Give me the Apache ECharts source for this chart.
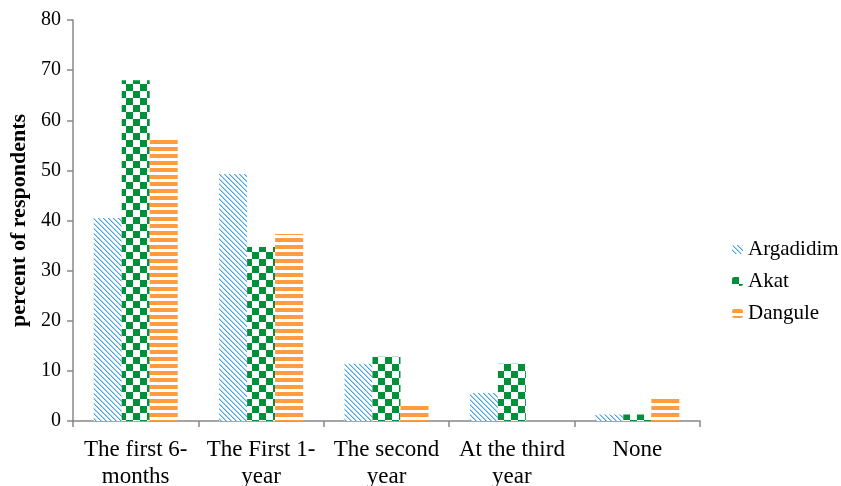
<!DOCTYPE html>
<html><head><meta charset="utf-8">
<script src="https://cdn.jsdelivr.net/npm/echarts@6/dist/echarts.min.js"></script>
<style>html,body{margin:0;padding:0;background:#fff}#c{width:841px;height:486px}</style>
</head><body><div id="c"></div>
<script>
const categories = ['The first 6-\nmonths', 'The First 1-\nyear', 'The second\nyear', 'At the third\nyear', 'None'];
const seriesNames = ['Argadidim', 'Akat', 'Dangule'];
const argadidim = [40.5, 49.3, 11.4, 5.6, 1.3];
const akat = [68.0, 34.7, 12.8, 11.4, 1.3];
const dangule = [56.3, 37.3, 3.0, 0, 4.8];
const yTicks = [0, 10, 20, 30, 40, 50, 60, 70, 80];

function mk(w, h, draw) {
  const c = document.createElement('canvas'); c.width = w; c.height = h;
  const g = c.getContext('2d'); g.fillStyle = '#fff'; g.fillRect(0, 0, w, h); draw(g); return c;
}
const diag = mk(5, 5, g => {
  for (let y = 0; y < 5; y++) {
    for (let x = 0; x < 5; x++) {
      const d = ((x - y) % 5 + 5) % 5;
      if (d === 0) { g.fillStyle = '#45a5e8'; g.fillRect(x, y, 1, 1); }
      else if (d === 1) { g.fillStyle = '#a8d5f5'; g.fillRect(x, y, 1, 1); }
    }
  }
});
const checker = mk(14, 14, g => {
  g.fillStyle = '#00903a';
  g.fillRect(0, 0, 7, 7); g.fillRect(7, 7, 7, 7);
});
const stripes = mk(6, 7, g => {
  g.fillStyle = '#ff9c40';
  g.fillRect(0, 0, 6, 4);
});
const pats = [diag, checker, stripes];
const datas = [argadidim, akat, dangule];

const chart = echarts.init(document.getElementById('c'), null, {renderer: 'canvas'});
const font = '"Liberation Serif", "Times New Roman", serif';
chart.setOption({
  animation: false,
  textStyle: {fontFamily: font},
  grid: {left: 73, right: 141, top: 20, bottom: 65, containLabel: false, outerBoundsMode: 'none'},
  legend: {
    orient: 'vertical', left: 727, top: 234, itemWidth: 11, itemHeight: 9, itemGap: 11,
    textStyle: {fontFamily: font, fontSize: 21, color: '#000'},
    data: seriesNames
  },
  xAxis: {
    type: 'category', data: categories,
    axisLine: {lineStyle: {color: '#888', width: 1.5}},
    axisTick: {show: true, length: 6, lineStyle: {color: '#888', width: 1.5}},
    axisLabel: {fontFamily: font, fontSize: 23, color: '#000', lineHeight: 27, margin: 15, interval: 0}
  },
  yAxis: {
    type: 'value', min: yTicks[0], max: yTicks[yTicks.length - 1], interval: 10,
    name: 'percent of respondents', nameLocation: 'middle', nameGap: 42,
    nameTextStyle: {fontFamily: font, fontSize: 22, fontWeight: 'bold', color: '#000'},
    axisLine: {show: true, lineStyle: {color: '#888', width: 1.5}},
    axisTick: {show: true, inside: false, length: 6, lineStyle: {color: '#888', width: 1.5}},
    splitLine: {show: false},
    axisLabel: {fontFamily: font, fontSize: 20, color: '#000', margin: 12}
  },
  series: seriesNames.map((n, i) => ({
    name: n, type: 'bar', data: datas[i], barWidth: 28, barGap: '0%',
    itemStyle: {color: {image: pats[i], repeat: 'repeat'}}
  }))
});
</script></body></html>
